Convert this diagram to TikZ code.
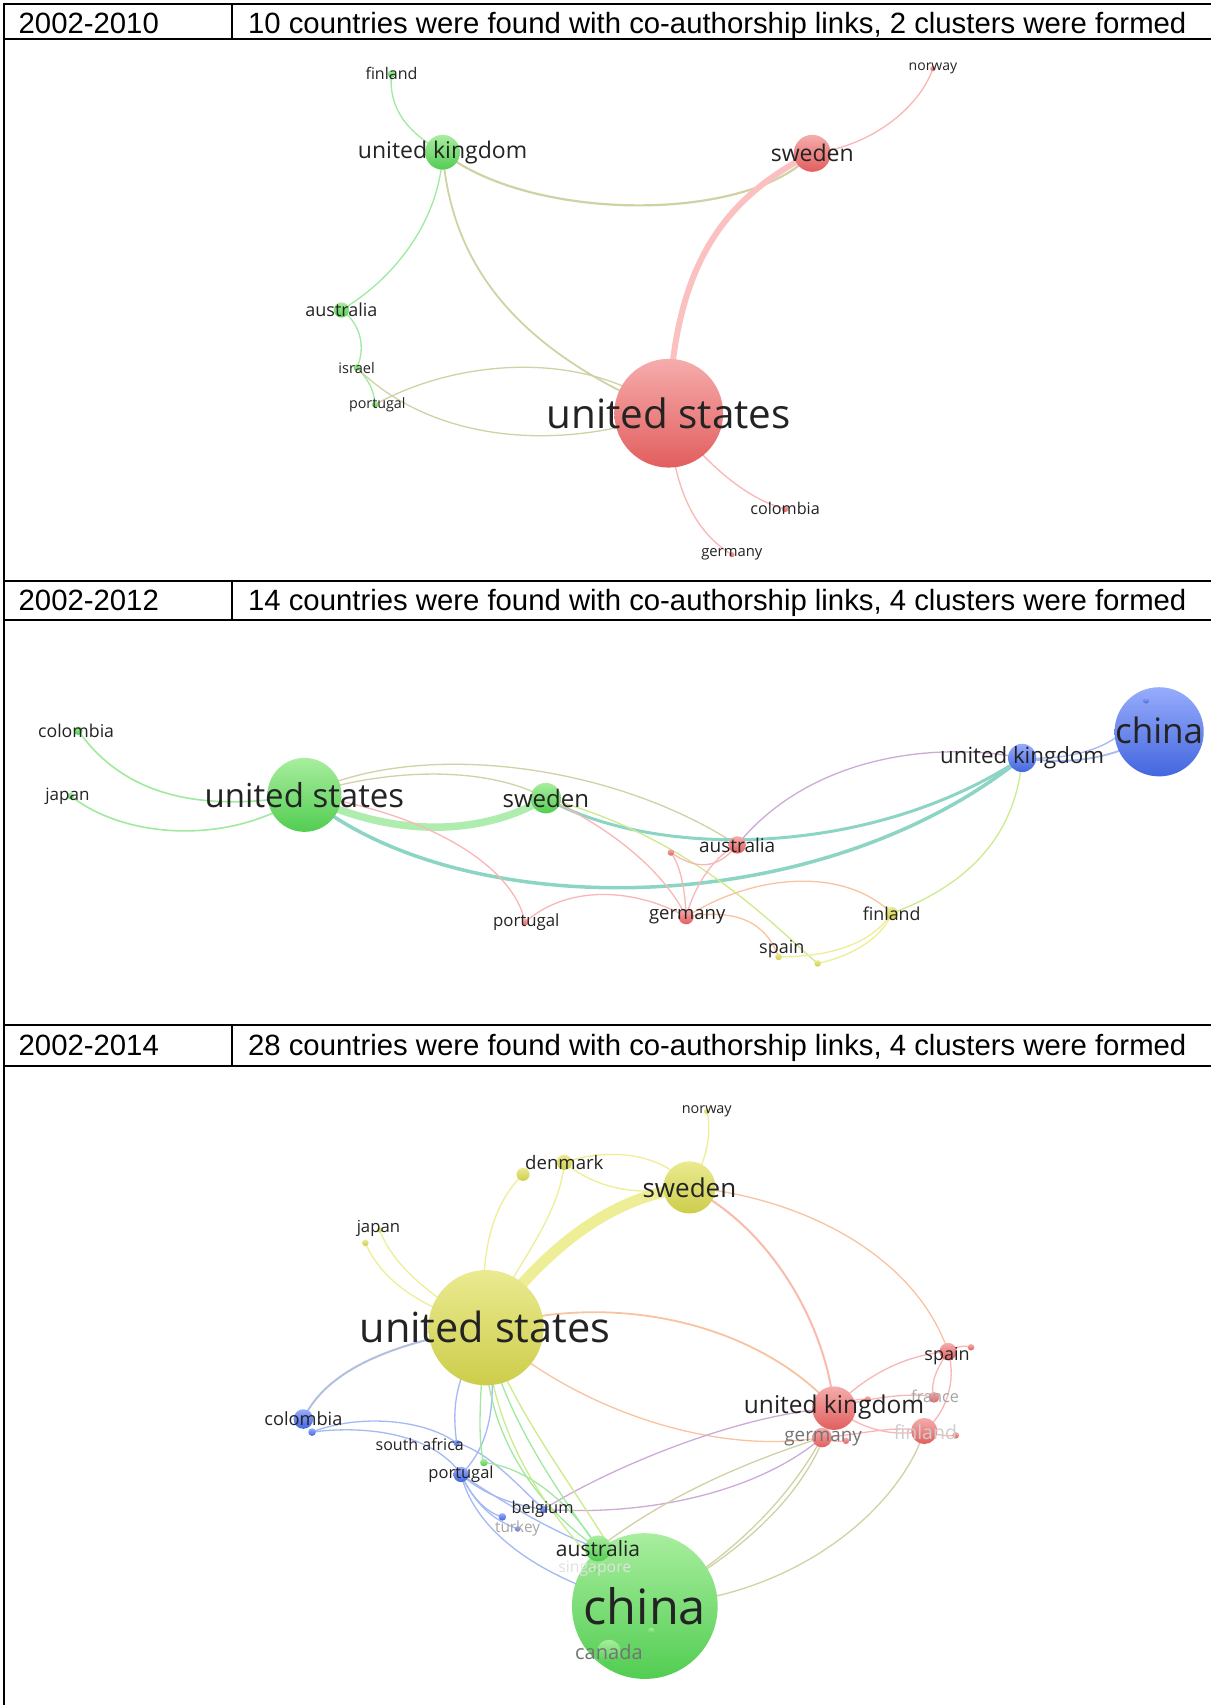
\documentclass[tikz,border=0pt]{standalone}
\usepackage{fontspec}
\setmainfont{Liberation Sans}
\newfontfamily\osf{Open Sans}
\definecolor{gE}{RGB}{160,234,160}
\definecolor{rE}{RGB}{250,182,182}
\definecolor{bE}{RGB}{165,185,245}
\definecolor{yE}{RGB}{238,238,150}
\definecolor{tE}{RGB}{208,210,165}
\definecolor{tlE}{RGB}{140,212,195}
\definecolor{pE}{RGB}{205,170,215}
\definecolor{oE}{RGB}{250,195,160}
\definecolor{ygE}{RGB}{205,235,140}
\definecolor{ngT}{RGB}{168,238,158}
\definecolor{ngB}{RGB}{82,205,82}
\definecolor{nrT}{RGB}{246,172,172}
\definecolor{nrB}{RGB}{226,94,94}
\definecolor{nbT}{RGB}{152,172,252}
\definecolor{nbB}{RGB}{66,102,222}
\definecolor{nyT}{RGB}{234,234,145}
\definecolor{nyB}{RGB}{205,205,75}
\definecolor{labc}{RGB}{35,35,35}
\definecolor{gA}{RGB}{115,115,115}
\definecolor{gB}{RGB}{165,165,165}
\definecolor{gC}{RGB}{205,205,205}
\definecolor{gD}{RGB}{225,225,225}
\tikzset{
 tbl/.style={line width=2pt, black},
 hdr/.style={font=\fontsize{29.3}{32}\selectfont, inner sep=0pt, text=black, anchor=base west},
 lbl/.style={inner sep=0pt, text=labc},
 eg/.style={draw=gE, line width=1.3pt},
 er/.style={draw=rE, line width=1.3pt},
 eb/.style={draw=bE, line width=1.3pt},
 ey/.style={draw=yE, line width=1.3pt},
 et/.style={draw=tE, line width=1.3pt},
 etl/.style={draw=tlE, line width=3.5pt},
 ep/.style={draw=pE, line width=1.3pt},
 eo/.style={draw=oE, line width=1.3pt},
 eyg/.style={draw=ygE, line width=1.3pt},
 ng/.style={top color=ngT, bottom color=ngB, draw=none},
 nr/.style={top color=nrT, bottom color=nrB, draw=none},
 nb/.style={top color=nbT, bottom color=nbB, draw=none},
 ny/.style={top color=nyT, bottom color=nyB, draw=none},
}
\newcommand\lfs[1]{\osf\fontsize{#1}{#1}\selectfont}
\begin{document}
\begin{tikzpicture}[x=1.0871pt,y=-1.0871pt]
\useasboundingbox (0,0) rectangle (1114,1568);
\fill[white] (0,0) rectangle (1114,1568);

%% ================= PANEL 1 =================
\coordinate (a1fin) at (360,68);
\coordinate (a1uk)  at (407,140);
\coordinate (a1swe) at (747,141);
\coordinate (a1nor) at (858,63);
\coordinate (a1aus) at (314,285);
\coordinate (a1isr) at (328,338);
\coordinate (a1por) at (345,372);
\coordinate (a1us)  at (615,380);
\coordinate (a1col) at (722,468);
\coordinate (a1ger) at (673,510);

\draw[eg] (a1fin) .. controls (357,100) and (375,122) .. (a1uk);
\draw[et,line width=2.2pt] (a1uk) .. controls (490,205) and (690,205) .. (a1swe);
\draw[er] (a1swe) .. controls (800,135) and (845,100) .. (a1nor);
\draw[er,line width=6pt,draw=rE!85!white] (a1swe) .. controls (660,185) and (620,250) .. (a1us);
\draw[et,line width=1.8pt] (a1uk) .. controls (415,240) and (470,320) .. (a1us);
\draw[eg] (a1uk) .. controls (405,200) and (365,255) .. (a1aus);
\draw[eg] (a1aus) .. controls (335,300) and (335,325) .. (a1isr);
\draw[eg] (a1isr) .. controls (340,350) and (344,360) .. (a1por);
\draw[et] (a1por) .. controls (420,330) and (540,320) .. (a1us);
\draw[et] (a1isr) .. controls (390,400) and (500,420) .. (a1us);
\draw[er] (a1us) .. controls (650,430) and (690,460) .. (a1col);
\draw[er] (a1us) .. controls (618,450) and (640,490) .. (a1ger);

\shade[ng] (a1fin) circle[radius=3.5];
\shade[ng] (a1uk) circle[radius=16];
\shade[nr] (a1swe) circle[radius=17];
\shade[nr] (a1nor) circle[radius=2.5];
\shade[ng] (a1aus) circle[radius=7];
\shade[ng] (a1isr) circle[radius=3];
\shade[ng] (a1por) circle[radius=3];
\shade[nr] (a1us) circle[radius=50];
\shade[nr] (a1col) circle[radius=3];
\shade[nr] (a1ger) circle[radius=2.5];

\node[lbl,font=\lfs{16}] (a1finL) at (a1fin) {finland};
\node[lbl,font=\lfs{23}] (a1ukL) at (a1uk) {united kingdom};
\node[lbl,font=\lfs{23}] (a1sweL) at (a1swe) {sweden};
\node[lbl,font=\lfs{14}] (a1norL) at (a1nor) {norway};
\node[lbl,font=\lfs{18}] (a1ausL) at (a1aus) {australia};
\node[lbl,font=\lfs{14.6}] (a1isrL) at (a1isr) {israel};
\node[lbl,font=\lfs{14.3}] (a1porL) at (347,372) {portugal};
\node[lbl,font=\lfs{40.4}] (a1usL) at (a1us) {united states};
\node[lbl,font=\lfs{16.2}] (a1colL) at (a1col) {colombia};
\node[lbl,font=\lfs{14.8}] (a1gerL) at (a1ger) {germany};

%% ================= PANEL 2 =================
\coordinate (b2col) at (72,672);
\coordinate (b2jap) at (65,732);
\coordinate (b2us)  at (280,731);
\coordinate (b2swe) at (502,734);
\coordinate (b2aus) at (678,777);
\coordinate (b2rd)  at (617,784);
\coordinate (b2uk)  at (940,697);
\coordinate (b2chn) at (1066,673);
\coordinate (b2cd)  at (1054,644);
\coordinate (b2por) at (483,848);
\coordinate (b2ger) at (631,843);
\coordinate (b2spa) at (716,880);
\coordinate (b2yd)  at (752,886);
\coordinate (b2fin) at (820,840);

\draw[eg,line width=1.6pt] (b2col) .. controls (120,740) and (200,745) .. (b2us);
\draw[eg,line width=1.6pt] (b2jap) .. controls (120,775) and (220,775) .. (b2us);
\draw[et] (b2us) .. controls (380,680) and (560,700) .. (b2aus);
\draw[et] (b2us) .. controls (360,705) and (450,705) .. (b2swe);
\draw[etl] (b2us) .. controls (420,850) and (750,850) .. (b2uk);
\draw[etl,line width=3pt] (b2swe) .. controls (600,790) and (800,790) .. (b2uk);
\draw[eg,line width=7.5pt,draw=gE!85!white] (b2us) .. controls (370,775) and (450,765) .. (b2swe);
\draw[er] (b2swe) .. controls (560,760) and (610,800) .. (b2ger);
\draw[er] (b2us) .. controls (380,745) and (470,790) .. (b2por);
\draw[eyg] (b2swe) .. controls (640,770) and (720,860) .. (b2yd);
\draw[er] (b2por) .. controls (520,815) and (580,815) .. (b2ger);
\draw[er] (b2ger) .. controls (640,810) and (660,785) .. (b2aus);
\draw[er] (b2ger) .. controls (630,815) and (625,795) .. (b2rd);
\draw[er] (b2rd) .. controls (640,800) and (660,800) .. (b2aus);
\draw[ep] (b2aus) .. controls (740,700) and (850,680) .. (b2uk);
\draw[eo] (b2ger) .. controls (700,800) and (780,800) .. (b2fin);
\draw[eo] (b2ger) .. controls (680,835) and (705,850) .. (b2spa);
\draw[ey] (b2spa) .. controls (760,880) and (800,870) .. (b2fin);
\draw[ey] (b2yd) .. controls (780,880) and (810,865) .. (b2fin);
\draw[eyg] (b2fin) .. controls (900,810) and (935,760) .. (b2uk);
\draw[eb,line width=1.8pt] (b2uk) .. controls (990,705) and (1030,695) .. (b2chn);
\draw[eb] (b2uk) .. controls (1000,700) and (1040,680) .. (b2cd);

\shade[ng] (b2col) circle[radius=4];
\shade[ng] (b2jap) circle[radius=3];
\shade[ng] (b2us) circle[radius=34];
\shade[ng] (b2swe) circle[radius=14];
\shade[nr] (b2aus) circle[radius=8];
\shade[nr] (b2rd) circle[radius=3];
\shade[nb] (b2uk) circle[radius=13];
\shade[nb] (b2chn) circle[radius=41];
\shade[nb] (b2cd) circle[radius=3];
\shade[nr] (b2por) circle[radius=3];
\shade[nr] (b2ger) circle[radius=7];
\shade[ny] (b2spa) circle[radius=3];
\shade[ny] (b2yd) circle[radius=3];
\shade[ny] (b2fin) circle[radius=6];

\node[lbl,font=\lfs{17.7}] (b2colL) at (70,672) {colombia};
\node[lbl,font=\lfs{17}] (b2japL) at (62,732) {japan};
\node[lbl,font=\lfs{33}] (b2usL) at (b2us) {united states};
\node[lbl,font=\lfs{24}] (b2sweL) at (b2swe) {sweden};
\node[lbl,font=\lfs{19}] (b2ausL) at (b2aus) {australia};
\node[lbl,font=\lfs{22.3}] (b2ukL) at (b2uk) {united kingdom};
\node[lbl,font=\lfs{35}] (b2chnL) at (1066,672) {china};
\node[lbl,font=\lfs{16.8}] (b2porL) at (484,848) {portugal};
\node[lbl,font=\lfs{18.5}] (b2gerL) at (632,843) {germany};
\node[lbl,font=\lfs{18}] (b2spaL) at (719,873) {spain};
\node[lbl,font=\lfs{17.8}] (b2finL) at (b2fin) {finland};

%% ================= PANEL 3 =================
\coordinate (c3nor) at (650,1022);
\coordinate (c3den) at (519,1069);
\coordinate (c3yd)  at (481,1080);
\coordinate (c3swe) at (634,1092);
\coordinate (c3jap) at (336,1143);
\coordinate (c3jp2) at (349,1131);
\coordinate (c3us)  at (447,1221);
\coordinate (c3spa) at (872,1243);
\coordinate (c3sd)  at (893,1239);
\coordinate (c3fra) at (859,1285);
\coordinate (c3uk)  at (767,1295);
\coordinate (c3ud)  at (798,1287);
\coordinate (c3ger) at (756,1322);
\coordinate (c3gd)  at (778,1325);
\coordinate (c3fin) at (850,1316);
\coordinate (c3fd)  at (879,1320);
\coordinate (c3col) at (279,1305);
\coordinate (c3cd)  at (287,1317);
\coordinate (c3saf) at (420,1327);
\coordinate (c3por) at (424,1356);
\coordinate (c3gd2) at (445,1345);
\coordinate (c3bel) at (500,1388);
\coordinate (c3bd)  at (462,1395);
\coordinate (c3tur) at (476,1406);
\coordinate (c3aus) at (550,1424);
\coordinate (c3sin) at (547,1443);
\coordinate (c3chn) at (593,1477);
\coordinate (c3can) at (560,1519);
\coordinate (c3cd2) at (599,1500);

\draw[ey,line width=11pt] (c3us) .. controls (500,1150) and (560,1100) .. (c3swe);
\draw[ey] (c3us) .. controls (470,1170) and (515,1120) .. (c3den);
\draw[ey] (c3us) .. controls (440,1160) and (450,1110) .. (c3yd);
\draw[ey] (c3den) .. controls (560,1055) and (610,1060) .. (c3swe);
\draw[ey] (c3den) .. controls (550,1095) and (590,1100) .. (c3swe);
\draw[ey] (c3swe) .. controls (650,1070) and (655,1040) .. (c3nor);
\draw[ey] (c3jap) .. controls (350,1175) and (380,1200) .. (c3us);
\draw[ey] (c3jp2) .. controls (360,1160) and (390,1190) .. (c3us);
\draw[eo,draw=rE!60!oE,line width=2pt] (c3swe) .. controls (710,1130) and (760,1220) .. (c3uk);
\draw[eo] (c3swe) .. controls (730,1100) and (840,1150) .. (c3spa);
\draw[eo,line width=1.8pt] (c3us) .. controls (570,1185) and (700,1220) .. (c3uk);
\draw[eo] (c3us) .. controls (520,1290) and (650,1340) .. (c3ger);
\draw[eb,draw=bE!70!tE,line width=2pt] (c3us) .. controls (360,1235) and (300,1260) .. (c3col);
\draw[eb] (c3cd) .. controls (330,1300) and (390,1305) .. (c3saf);
\draw[eb] (c3cd) .. controls (340,1310) and (400,1320) .. (c3por);
\draw[eb] (c3saf) .. controls (415,1290) and (420,1265) .. (c3us);
\draw[eb] (c3por) .. controls (450,1330) and (460,1290) .. (c3us);
\draw[eb] (c3por) .. controls (445,1375) and (475,1385) .. (c3bel);
\draw[eb] (c3por) .. controls (435,1380) and (450,1392) .. (c3bd);
\draw[eb] (c3por) .. controls (440,1390) and (460,1400) .. (c3tur);
\draw[eb] (c3por) .. controls (440,1420) and (520,1460) .. (c3chn);
\draw[eb] (c3por) .. controls (460,1380) and (510,1410) .. (c3aus);
\draw[eb] (c3saf) .. controls (450,1335) and (480,1370) .. (c3bel);
\draw[ep] (c3bel) .. controls (560,1350) and (680,1300) .. (c3uk);
\draw[ep] (c3bel) .. controls (600,1395) and (700,1370) .. (c3ger);
\draw[eg] (c3gd2) .. controls (490,1350) and (530,1390) .. (c3aus);
\draw[eg] (c3us) .. controls (440,1320) and (500,1390) .. (c3aus);
\draw[eg] (c3us) .. controls (460,1300) and (520,1380) .. (c3aus);
\draw[eyg] (c3us) .. controls (450,1330) and (520,1420) .. (c3chn);
\draw[eyg] (c3us) .. controls (470,1300) and (540,1380) .. (c3chn);
\draw[eg] (c3us) .. controls (440,1290) and (440,1330) .. (c3gd2);
\draw[et] (c3aus) .. controls (620,1370) and (700,1340) .. (c3ger);
\draw[et] (c3chn) .. controls (680,1430) and (730,1370) .. (c3ger);
\draw[et] (c3chn) .. controls (700,1420) and (750,1360) .. (c3uk);
\draw[et] (c3chn) .. controls (740,1470) and (830,1380) .. (c3fin);
\draw[eg] (c3aus) .. controls (570,1440) and (580,1460) .. (c3chn);
\draw[eg] (c3can) .. controls (555,1480) and (550,1450) .. (c3aus);
\draw[er] (c3uk) .. controls (800,1260) and (840,1245) .. (c3spa);
\draw[er] (c3uk) .. controls (800,1285) and (840,1280) .. (c3fra);
\draw[er] (c3uk) .. controls (800,1320) and (830,1320) .. (c3fin);
\draw[er] (c3ger) .. controls (790,1320) and (820,1310) .. (c3fin);
\draw[er] (c3spa) .. controls (880,1270) and (870,1300) .. (c3fin);
\draw[er] (c3spa) .. controls (860,1260) and (855,1275) .. (c3fra);
\draw[er] (c3uk) .. controls (780,1288) and (790,1286) .. (c3ud);
\draw[er] (c3ger) .. controls (765,1326) and (772,1326) .. (c3gd);
\draw[er] (c3fin) .. controls (862,1320) and (872,1321) .. (c3fd);
\draw[er] (c3spa) .. controls (880,1238) and (887,1237) .. (c3sd);

\shade[ny] (c3nor) circle[radius=2.5];
\shade[ny] (c3den) circle[radius=7];
\shade[ny] (c3yd) circle[radius=6];
\shade[ny] (c3swe) circle[radius=24];
\shade[ny] (c3jap) circle[radius=3];
\shade[ny] (c3jp2) circle[radius=2.5];
\shade[ny] (c3us) circle[radius=53];
\shade[nr] (c3spa) circle[radius=8];
\shade[nr] (c3sd) circle[radius=3];
\shade[nr] (c3fra) circle[radius=5];
\shade[nr] (c3uk) circle[radius=20];
\shade[nr] (c3ud) circle[radius=3];
\shade[nr] (c3ger) circle[radius=9];
\shade[nr] (c3gd) circle[radius=3];
\shade[nr] (c3fin) circle[radius=12];
\shade[nr] (c3fd) circle[radius=3];
\shade[nb] (c3col) circle[radius=9];
\shade[nb] (c3cd) circle[radius=3.5];
\shade[nb] (c3saf) circle[radius=3];
\shade[nb] (c3por) circle[radius=7];
\shade[ng] (c3gd2) circle[radius=3.5];
\shade[nb] (c3bel) circle[radius=3.5];
\shade[nb] (c3bd) circle[radius=3.5];
\shade[nb] (c3tur) circle[radius=2.5];
\shade[ng] (c3chn) circle[radius=67];
\shade[ng] (c3aus) circle[radius=12];
\shade[ng] (c3sin) circle[radius=3];
\shade[ng] (c3can) circle[radius=11];
\shade[ng] (c3cd2) circle[radius=3];

\node[lbl,font=\lfs{14.4}] (c3norL) at (c3nor) {norway};
\node[lbl,font=\lfs{18.6}] (c3denL) at (c3den) {denmark};
\node[lbl,font=\lfs{26}] (c3sweL) at (c3swe) {sweden};
\node[lbl,font=\lfs{16.7}] (c3japL) at (348,1130) {japan};
\node[lbl,font=\lfs{41.5}] (c3usL) at (446,1220) {united states};
\node[lbl,font=\lfs{18}] (c3spaL) at (871,1247) {spain};
\node[lbl,font=\lfs{16.3},text=gB] (c3fraL) at (860,1284) {france};
\node[lbl,font=\lfs{24.5}] (c3ukL) at (767,1294) {united kingdom};
\node[lbl,font=\lfs{18.8},text=gA] (c3gerL) at (757,1323) {germany};
\node[lbl,font=\lfs{19.5},text=gC] (c3finL) at (851,1317) {finland};
\node[lbl,font=\lfs{18.2}] (c3colL) at (c3col) {colombia};
\node[lbl,font=\lfs{16}] (c3safL) at (386,1328) {south africa};
\node[lbl,font=\lfs{16.5}] (c3porL) at (c3por) {portugal};
\node[lbl,font=\lfs{16.4}] (c3belL) at (499,1388) {belgium};
\node[lbl,font=\lfs{15.4},text=gB] (c3turL) at (c3tur) {turkey};
\node[lbl,font=\lfs{21}] (c3ausL) at (c3aus) {australia};
\node[lbl,font=\lfs{15.8},text=gD] (c3sinL) at (c3sin) {singapore};
\node[lbl,font=\lfs{48.7}] (c3chnL) at (c3chn) {china};
\node[lbl,font=\lfs{20},text=gA] (c3canL) at (c3can) {canada};

%% ================= TABLE =================
\draw[tbl] (4,3.5) -- (1114,3.5);
\draw[tbl] (4,36) -- (1114,36);
\draw[tbl] (213,3.5) -- (213,36);
\draw[tbl] (4,534) -- (1114,534);
\draw[tbl] (4,570) -- (1114,570);
\draw[tbl] (213,534) -- (213,570);
\draw[tbl] (4,943) -- (1114,943);
\draw[tbl] (4,980) -- (1114,980);
\draw[tbl] (213,943) -- (213,980);
\draw[tbl] (4,2.5) -- (4,1568);

\node[hdr] (h1a) at (17,30.5) {2002-2010};
\node[hdr] (h1b) at (228,30.5) {10 countries were found with co-authorship links, 2 clusters were formed};
\node[hdr] (h2a) at (17,561.5) {2002-2012};
\node[hdr] (h2b) at (228,561.5) {14 countries were found with co-authorship links, 4 clusters were formed};
\node[hdr] (h3a) at (17,970.5) {2002-2014};
\node[hdr] (h3b) at (228,970.5) {28 countries were found with co-authorship links, 4 clusters were formed};
\end{tikzpicture}
\end{document}
